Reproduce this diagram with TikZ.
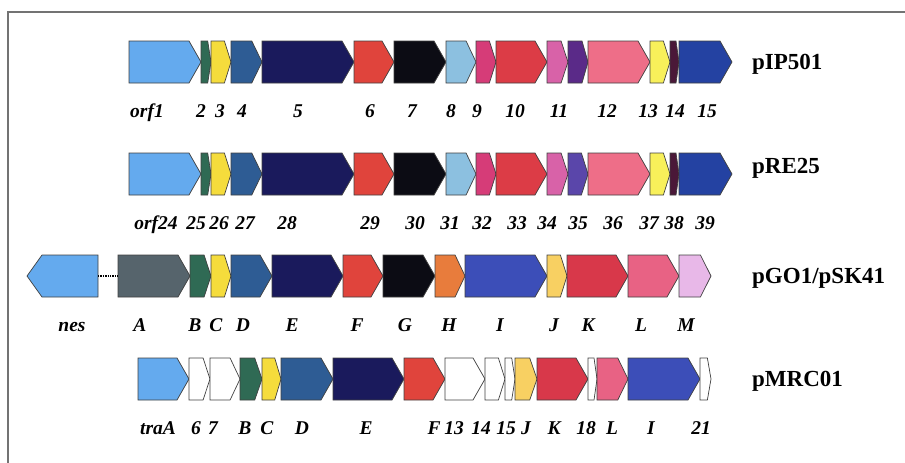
\documentclass[tikz,border=0pt]{standalone}
\usepackage{fontspec}
\setmainfont{Liberation Serif}
\usepackage{xcolor}
\usetikzlibrary{positioning}

\definecolor{orfblue}{HTML}{64AAEE}
\definecolor{dkgreen}{HTML}{2F6A54}
\definecolor{genyellow}{HTML}{F5DC3C}
\definecolor{steelblue}{HTML}{2E5C94}
\definecolor{navyblue}{HTML}{1A1A5C}
\definecolor{genred}{HTML}{E0443C}
\definecolor{genblack}{HTML}{0C0C14}
\definecolor{skyblue}{HTML}{8CC0E0}
\definecolor{magenta9}{HTML}{D63C78}
\definecolor{red10}{HTML}{DC3C46}
\definecolor{orchid}{HTML}{D862A8}
\definecolor{purple11}{HTML}{5A2A88}
\definecolor{pink12}{HTML}{EE6E88}
\definecolor{yellow13}{HTML}{F8F05A}
\definecolor{maroon}{HTML}{4A1838}
\definecolor{blue15}{HTML}{2442A2}
\definecolor{violet35}{HTML}{5A46AA}
\definecolor{slateA}{HTML}{56646C}
\definecolor{orangeH}{HTML}{E87C3C}
\definecolor{blueI}{HTML}{3C4EB8}
\definecolor{yellowJ}{HTML}{F8D062}
\definecolor{redK}{HTML}{D8384A}
\definecolor{pinkL}{HTML}{E86284}
\definecolor{lilac}{HTML}{E8B8E8}

% gene arrow: name, left x, right x, fill, label, label x, row y
\newcommand{\gene}[7]{%
  \pgfmathsetmacro{\gtip}{min(12,0.33*(#3-#2))}
  \draw[genebox, fill=#4] (#2,#7-21) -- ({#3-\gtip},#7-21) -- (#3,#7) -- ({#3-\gtip},#7+21) -- (#2,#7+21) -- cycle;
  \coordinate (#1-w) at (#2,#7);
  \coordinate (#1-e) at (#3,#7);
  \node[genelabel] (#1) at (#6,#7+55) {#5};
}

\begin{document}
\begin{tikzpicture}[
    x=1pt, y=-1pt,
    genebox/.style={draw=black!75, line width=0.7pt, line join=miter},
    genelabel/.style={anchor=base, inner sep=0pt, font=\fontsize{19.5}{19.5}\selectfont\bfseries\itshape},
    plasmid/.style={anchor=base west, inner sep=0pt, font=\fontsize{23}{23}\selectfont\bfseries},
    frame/.style={draw=black!55, line width=1.3pt}
  ]
    \useasboundingbox (0,0) rectangle (905,463);
    \draw[frame] (905,12) -- (8,12) -- (8,463);

    % pIP501
    \gene{p1orf1}{129}{201}{orfblue}{orf1}{147}{62}
    \gene{p1g2}{201}{211}{dkgreen}{2}{201}{62}
    \gene{p1g3}{211}{231}{genyellow}{3}{220}{62}
    \gene{p1g4}{231}{262}{steelblue}{4}{242}{62}
    \gene{p1g5}{262}{354}{navyblue}{5}{298}{62}
    \gene{p1g6}{354}{394}{genred}{6}{370}{62}
    \gene{p1g7}{394}{446}{genblack}{7}{412}{62}
    \gene{p1g8}{446}{476}{skyblue}{8}{451}{62}
    \gene{p1g9}{476}{496}{magenta9}{9}{477}{62}
    \gene{p1g10}{496}{547}{red10}{10}{515}{62}
    \gene{p1g11}{547}{568}{orchid}{11}{559}{62}
    \draw[genebox, fill=purple11] (568,41) -- (582,41) -- (588,62) -- (582,83) -- (568,83) -- cycle;
    \gene{p1g12}{588}{650}{pink12}{12}{607}{62}
    \gene{p1g13}{650}{670}{yellow13}{13}{648}{62}
    \gene{p1g14}{670}{679}{maroon}{14}{675}{62}
    \gene{p1g15}{679}{732}{blue15}{15}{707}{62}
    \node[plasmid] (pip501) at (752,69.5) {pIP501};

    % pRE25
    \gene{p2orf24}{129}{201}{orfblue}{orf24}{156}{174}
    \gene{p2g25}{201}{211}{dkgreen}{25}{196}{174}
    \gene{p2g26}{211}{231}{genyellow}{26}{219}{174}
    \gene{p2g27}{231}{262}{steelblue}{27}{245}{174}
    \gene{p2g28}{262}{354}{navyblue}{28}{287}{174}
    \gene{p2g29}{354}{394}{genred}{29}{370}{174}
    \gene{p2g30}{394}{446}{genblack}{30}{415}{174}
    \gene{p2g31}{446}{476}{skyblue}{31}{450}{174}
    \gene{p2g32}{476}{496}{magenta9}{32}{482}{174}
    \gene{p2g33}{496}{547}{red10}{33}{517}{174}
    \gene{p2g34}{547}{568}{orchid}{34}{547}{174}
    \gene{p2g35}{568}{588}{violet35}{35}{578}{174}
    \gene{p2g36}{588}{650}{pink12}{36}{613}{174}
    \gene{p2g37}{650}{670}{yellow13}{37}{649}{174}
    \gene{p2g38}{670}{679}{maroon}{38}{674}{174}
    \gene{p2g39}{679}{732}{blue15}{39}{705}{174}
    \node[plasmid] (pre25) at (752,173) {pRE25};

    % pGO1/pSK41
    \draw[genebox, fill=orfblue] (98,255) -- (42,255) -- (27,276) -- (42,297) -- (98,297) -- cycle;
    \coordinate (nes-e) at (98,276);
    \node[genelabel] (nes) at (72,331) {nes};
    \gene{p3A}{118}{190}{slateA}{A}{140}{276}
    \draw[densely dotted, line width=1.4pt] (nes-e) -- (p3A-w);
    \gene{p3B}{190}{211}{dkgreen}{B}{195}{276}
    \gene{p3C}{211}{231}{genyellow}{C}{216}{276}
    \gene{p3D}{231}{272}{steelblue}{D}{243}{276}
    \gene{p3E}{272}{343}{navyblue}{E}{292}{276}
    \gene{p3F}{343}{383}{genred}{F}{357}{276}
    \gene{p3G}{383}{435}{genblack}{G}{405}{276}
    \gene{p3H}{435}{465}{orangeH}{H}{449}{276}
    \gene{p3I}{465}{547}{blueI}{I}{500}{276}
    \gene{p3J}{547}{567}{yellowJ}{J}{554}{276}
    \gene{p3K}{567}{628}{redK}{K}{588}{276}
    \gene{p3L}{628}{679}{pinkL}{L}{641}{276}
    \gene{p3M}{679}{711}{lilac}{M}{686}{276}
    \node[plasmid] (pgo1) at (752,283.5) {pGO1/pSK41};

    % pMRC01
    \gene{p4traA}{138}{189}{orfblue}{traA}{158}{379}
    \gene{p4g6}{189}{210}{white}{6}{196}{379}
    \gene{p4g7}{210}{240}{white}{7}{213}{379}
    \gene{p4B}{240}{262}{dkgreen}{B}{245}{379}
    \gene{p4C}{262}{281}{genyellow}{C}{267}{379}
    \gene{p4D}{281}{333}{steelblue}{D}{302}{379}
    \gene{p4E}{333}{404}{navyblue}{E}{366}{379}
    \gene{p4F}{404}{445}{genred}{F}{434}{379}
    \gene{p4g13}{445}{485}{white}{13}{454}{379}
    \gene{p4g14}{485}{505}{white}{14}{481}{379}
    \gene{p4g15}{505}{515}{white}{15}{506}{379}
    \gene{p4J}{515}{537}{yellowJ}{J}{526}{379}
    \gene{p4K}{537}{588}{redK}{K}{554}{379}
    \gene{p4g18}{588}{597}{white}{18}{586}{379}
    \gene{p4L}{597}{628}{pinkL}{L}{612}{379}
    \gene{p4I}{628}{700}{blueI}{I}{651}{379}
    \gene{p4g21}{700}{711}{white}{21}{701}{379}
    \node[plasmid] (pmrc01) at (752,386.5) {pMRC01};
  \end{tikzpicture}
\end{document}
